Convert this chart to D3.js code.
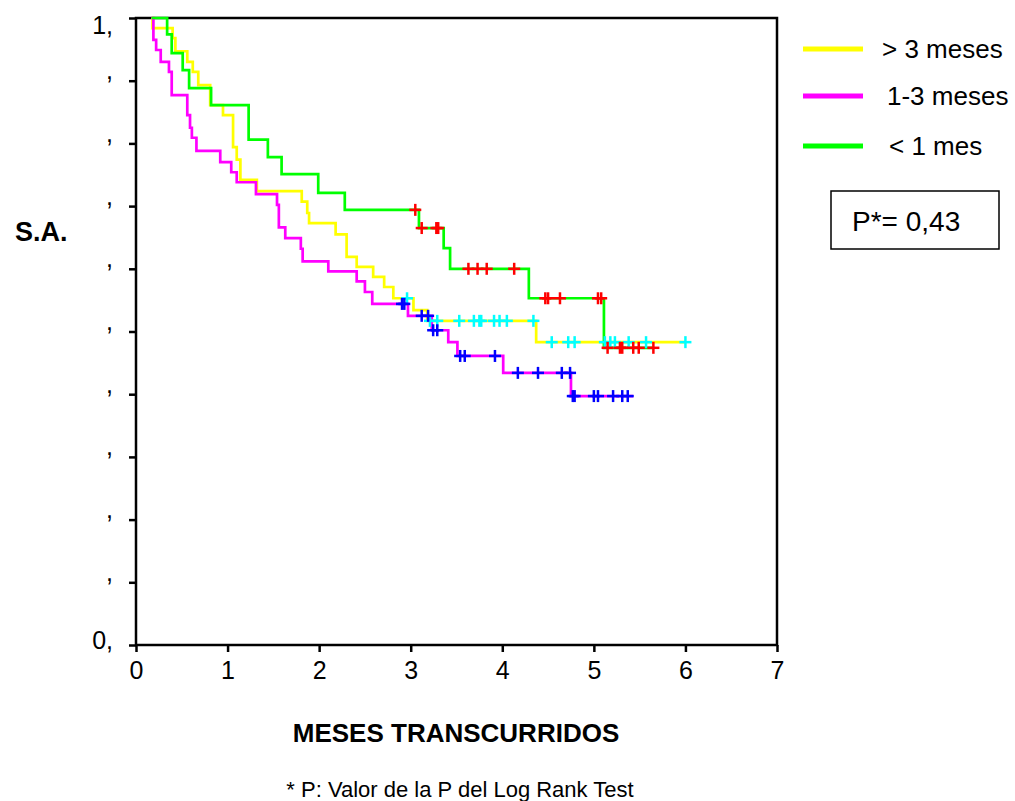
<!DOCTYPE html>
<html>
<head>
<meta charset="utf-8">
<script src="https://cdn.jsdelivr.net/npm/d3@7"></script>
<style>
  body { margin: 0; background: #fff; }
  text { font-family: "Liberation Sans", Arial, sans-serif; }
</style>
</head>
<body>
<div id="chart"></div>
<script>
const w = 1015;
const h = 801;

// groups (legend order)
const groupNames = ['> 3 meses', '1-3 meses', '< 1 mes'];
const startTime = 0.17;

// > 3 meses
const yellowTimes = [0.18, 0.40, 0.43, 0.56, 0.62, 0.68, 0.81, 0.95, 1.06, 1.10, 1.14, 1.32, 1.81, 1.87, 1.89, 2.18, 2.30, 2.41, 2.59, 2.71, 2.81, 3.03, 3.18, 4.37];
const yellowSurv = [0.984, 0.968, 0.947, 0.930, 0.914, 0.893, 0.861, 0.845, 0.794, 0.774, 0.742, 0.724, 0.707, 0.689, 0.673, 0.655, 0.619, 0.603, 0.587, 0.571, 0.553, 0.534, 0.517, 0.483];
const yellowCensored = [2.96, 3.21, 3.29, 3.53, 3.69, 3.75, 3.77, 3.91, 3.97, 4.05, 4.34, 4.54, 4.72, 4.79, 5.12, 5.18, 5.23, 5.38, 5.57, 6.0];
const yellowEnd = 6.0;

// 1-3 meses
const magentaTimes = [0.19, 0.22, 0.27, 0.36, 0.39, 0.56, 0.59, 0.61, 0.66, 0.92, 1.04, 1.10, 1.31, 1.54, 1.56, 1.63, 1.80, 1.82, 2.10, 2.41, 2.50, 2.58, 2.97, 3.23, 3.41, 3.51, 4.01, 4.75];
const magentaSurv = [0.965, 0.949, 0.930, 0.914, 0.877, 0.845, 0.825, 0.809, 0.788, 0.770, 0.754, 0.738, 0.719, 0.702, 0.666, 0.649, 0.632, 0.612, 0.596, 0.580, 0.563, 0.544, 0.525, 0.502, 0.483, 0.461, 0.434, 0.397];
const magentaCensored = [2.905, 2.93, 3.12, 3.19, 3.245, 3.29, 3.54, 3.59, 3.92, 4.17, 4.39, 4.65, 4.74, 4.77, 4.79, 5.0, 5.045, 5.21, 5.31, 5.37];
const magentaEnd = 5.43;

// < 1 mes
const greenTimes = [0.34, 0.39, 0.51, 0.58, 0.82, 1.23, 1.44, 1.59, 1.99, 2.28, 3.09, 3.36, 3.43, 4.29, 5.11];
const greenSurv = [0.974, 0.944, 0.917, 0.888, 0.861, 0.806, 0.778, 0.751, 0.721, 0.694, 0.665, 0.633, 0.600, 0.553, 0.474];
const greenCensored = [3.05, 3.12, 3.28, 3.30, 3.63, 3.73, 3.83, 4.13, 4.47, 4.50, 4.63, 5.045, 5.08, 5.15, 5.285, 5.31, 5.43, 5.49, 5.65];
const greenEnd = 5.65;

// axis ticks
const xTicks = [0, 1, 2, 3, 4, 5, 6, 7];
const yTicks = [0, 0.1, 0.2, 0.3, 0.4, 0.5, 0.6, 0.7, 0.8, 0.9, 1];

const pValue = 'P*= 0,43';

const series = [
    { name: groupNames[0], times: yellowTimes, surv: yellowSurv, cens: yellowCensored, end: yellowEnd, color: '#ffff00', mark: '#00ffff' },
    { name: groupNames[1], times: magentaTimes, surv: magentaSurv, cens: magentaCensored, end: magentaEnd, color: '#ff00ff', mark: '#0000ff' },
    { name: groupNames[2], times: greenTimes, surv: greenSurv, cens: greenCensored, end: greenEnd, color: '#00ff00', mark: '#ff0000' }
];

const survAt = (s, t) => {
    let v = 1;
    s.times.forEach((d, i) => { if (d <= t) v = s.surv[i]; });
    return v;
}

const svg = d3.select('#chart')
    .append('svg')
    .attr('width', w)
    .attr('height', h);

const xScale = d3.scaleLinear().domain([0, 7]).range([136, 777]);
const yScale = d3.scaleLinear().domain([0, 1]).range([645, 18]);

// axes
const xAxis = d3.axisBottom(xScale)
    .tickValues(xTicks)
    .tickSize(7)
    .tickPadding(9)
    .tickFormat(d3.format('d'));

const yAxis = d3.axisLeft(yScale)
    .tickValues(yTicks)
    .tickSize(7)
    .tickPadding(16)
    .tickFormat(d => d === 1 ? '1,' : d === 0 ? '0,' : ',');

const gx = svg.append('g')
    .attr('transform', `translate(0, ${yScale(0)})`)
    .call(xAxis);
gx.selectAll('text').style('font-size', '25px').attr('fill', '#000');

const gy = svg.append('g')
    .attr('transform', `translate(${xScale(0)}, 0)`)
    .call(yAxis);
gy.selectAll('text')
    .style('font-size', '25px')
    .attr('fill', '#000')
    .attr('dy', d => d === 1 ? '15px' : d === 0 ? '3px' : '-2px');

[gx, gy].forEach(g => {
    g.select('.domain').remove();
    g.selectAll('line').attr('stroke', '#000').attr('stroke-width', 2.5);
});

// frame
svg.append('rect')
    .attr('x', xScale(0))
    .attr('y', yScale(1))
    .attr('width', xScale(7) - xScale(0))
    .attr('height', yScale(0) - yScale(1))
    .attr('fill', 'none')
    .attr('stroke', '#000')
    .attr('stroke-width', 2.5);

// survival curves
const line = d3.line()
    .x(d => xScale(d[0]))
    .y(d => yScale(d[1]))
    .curve(d3.curveStepAfter);

series.forEach(s => {
    const pts = [[startTime, 1]]
        .concat(s.times.map((t, i) => [t, s.surv[i]]))
        .concat([[s.end, s.surv[s.surv.length - 1]]]);
    svg.append('path')
        .datum(pts)
        .attr('d', line)
        .attr('fill', 'none')
        .attr('stroke', s.color)
        .attr('stroke-width', 2.7);
});

// censored marks
series.forEach(s => {
    const g = svg.append('g')
        .attr('stroke', s.mark)
        .attr('stroke-width', 2.5);
    s.cens.forEach(t => {
        const cx = xScale(t);
        const cy = yScale(survAt(s, t));
        g.append('line').attr('x1', cx - 6).attr('x2', cx + 6).attr('y1', cy).attr('y2', cy);
        g.append('line').attr('x1', cx).attr('x2', cx).attr('y1', cy - 6).attr('y2', cy + 6);
    });
});

// legend
const legendY = [49, 96, 146];
const legendTextX = [882, 887, 889];
series.forEach((s, i) => {
    svg.append('line')
        .attr('x1', 803).attr('x2', 863)
        .attr('y1', legendY[i]).attr('y2', legendY[i])
        .attr('stroke', s.color)
        .attr('stroke-width', 5);
    svg.append('text')
        .attr('x', legendTextX[i])
        .attr('y', legendY[i] + 9)
        .style('font-size', '26px')
        .text(s.name);
});

// p value box
svg.append('rect')
    .attr('x', 831).attr('y', 191)
    .attr('width', 168).attr('height', 58)
    .attr('fill', 'none')
    .attr('stroke', '#000')
    .attr('stroke-width', 1.5);
svg.append('text')
    .attr('x', 852).attr('y', 231)
    .style('font-size', '28px')
    .text(pValue);

// labels
svg.append('text')
    .attr('x', 15).attr('y', 241)
    .style('font-size', '27px')
    .style('font-weight', 'bold')
    .text('S.A.');

svg.append('text')
    .attr('x', 456).attr('y', 742)
    .attr('text-anchor', 'middle')
    .style('font-size', '26px')
    .style('font-weight', 'bold')
    .text('MESES TRANSCURRIDOS');

svg.append('text')
    .attr('x', 460).attr('y', 797)
    .attr('text-anchor', 'middle')
    .style('font-size', '22px')
    .text('* P: Valor de la P del Log Rank Test');
</script>
</body>
</html>
